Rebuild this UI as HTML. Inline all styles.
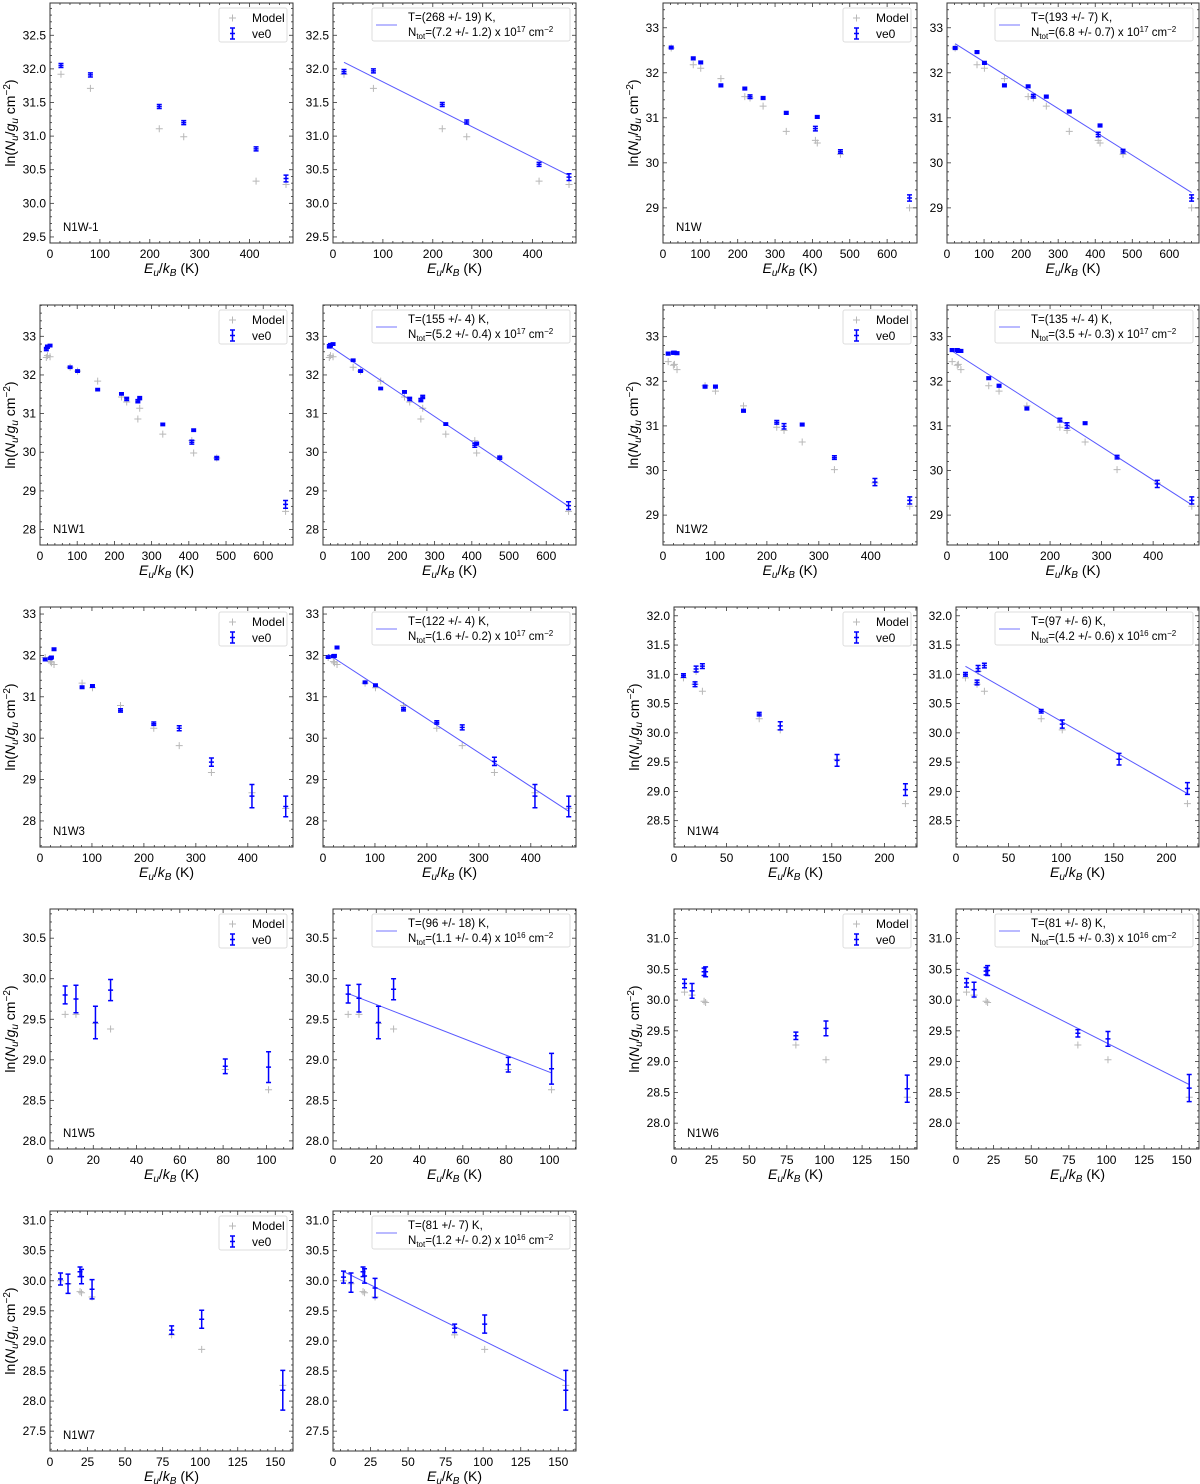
<!DOCTYPE html>
<html><head><meta charset="utf-8"><style>
body{margin:0;background:#fff;}
svg{display:block;font-family:"Liberation Sans",sans-serif;}
</style></head><body>
<svg id="fig" width="1200" height="1484" viewBox="0 0 1200 1484" xmlns="http://www.w3.org/2000/svg"></svg>
<script>
// ---- data ----
const n1w_1_E=[22,81,219,268,413,473];
const n1w_1_model=[31.92,31.71,31.11,30.99,30.33,30.28];
const n1w_1_ve0L=[32.05,31.91,31.44,31.20,30.81,30.37];
const n1w_1_ve0R=[31.96,31.97,31.47,31.21,30.58,30.39];
const n1w_1_err=[.03,.03,.03,.03,.03,.05];
const n1w_E=[22,81,101,155,219,233,268,330,408,413,475,660];
const n1w_model=[32.55,32.18,32.10,31.87,31.47,31.44,31.26,30.70,30.50,30.44,30.19,29.00];
const n1w_ve0L=[32.56,32.32,32.23,31.72,31.65,31.47,31.44,31.11,30.76,31.02,30.25,29.22];
const n1w_ve0R=[32.55,32.46,32.22,31.72,31.70,31.48,31.47,31.14,30.63,30.83,30.26,29.22];
const n1w_err=[.03,.03,.03,.03,.03,.04,.03,.03,.05,.03,.04,.07];
const n1w1_E=[17,20,27,81,101,155,219,233,263,268,330,408,413,475,660];
const n1w1_model=[32.45,32.5,32.47,32.2,32.1,31.84,31.43,31.3,30.86,31.14,30.47,30.3,29.98,29.85,28.47];
const n1w1_ve0L=[32.67,32.73,32.76,32.2,32.1,31.62,31.51,31.38,31.32,31.4,30.72,30.26,30.57,29.85,28.65];
const n1w1_ve0R=[32.74,32.77,32.8,32.38,32.1,31.65,31.56,31.38,31.35,31.43,30.73,30.18,30.23,29.86,28.62];
const n1w1_err=[.04,.04,.03,.03,.03,.03,.03,.04,.04,.04,.03,.05,.03,.04,.1];
const n1w2_E=[10,20,22,27,81,101,155,219,233,268,330,408,475];
const n1w2_model=[32.44,32.36,32.38,32.26,31.9,31.78,31.45,30.97,30.9,30.64,30.02,29.72,29.2];
const n1w2_ve0L=[32.62,32.64,32.64,32.63,31.88,31.88,31.34,31.08,30.99,31.03,30.29,29.74,29.33];
const n1w2_ve0R=[32.7,32.7,32.68,32.68,32.07,31.9,31.39,31.13,31.01,31.06,30.3,29.7,29.33];
const n1w2_err=[.03,.03,.03,.03,.03,.03,.03,.04,.06,.03,.04,.08,.08];
const n1w3_E=[10,20,22,27,81,101,155,219,268,330,408,473];
const n1w3_model=[31.95,31.85,31.82,31.78,31.33,31.22,30.79,30.24,29.82,29.17,28.68,28.3];
const n1w3_ve0L=[31.9,31.93,31.95,32.15,31.23,31.26,30.67,30.35,30.24,29.42,28.6,28.35];
const n1w3_ve0R=[31.96,31.98,31.99,32.19,31.35,31.28,30.7,30.38,30.26,29.44,28.6,28.35];
const n1w3_err=[.03,.03,.03,.03,.03,.03,.04,.04,.06,.1,.28,.25];
const n1w4_E=[9,20,21,27,81,101,155,220];
const n1w4_model=[30.94,30.83,31.05,30.71,30.24,30.05,29.55,28.79];
const n1w4_ve0L=[30.98,30.83,31.09,31.14,30.32,30.12,29.53,29.03];
const n1w4_ve0R=[31.0,30.86,31.1,31.15,30.37,30.15,29.55,29.05];
const n1w4_err=[.03,.04,.05,.04,.03,.07,.1,.1];
const n1w5_E=[7,12,21,28,81,101];
const n1w5_model=[29.56,29.56,29.45,29.38,28.88,28.63];
const n1w5_ve0L=[29.8,29.75,29.46,29.86,28.92,28.91];
const n1w5_ve0R=[29.81,29.76,29.46,29.87,28.94,28.89];
const n1w5_err=[.11,.17,.2,.13,.09,.19];
const n1w6_E=[7,12,20,21,81,101,155];
const n1w6_model=[30.13,30.08,29.98,29.96,29.27,29.03,28.42];
const n1w6_ve0L=[30.27,30.15,30.46,30.46,29.42,29.54,28.56];
const n1w6_ve0R=[30.28,30.17,30.47,30.48,29.46,29.37,28.57];
const n1w6_err=[.07,.12,.06,.08,.06,.12,.22];
const n1w7_E=[7,12,20,21,28,81,101,155];
const n1w7_model=[30.0,29.95,29.82,29.8,29.73,29.1,28.86,28.26];
const n1w7_ve0L=[30.03,29.95,30.15,30.07,29.86,29.18,29.36,28.18];
const n1w7_ve0R=[30.06,29.97,30.15,30.08,29.88,29.21,29.28,28.18];
const n1w7_err=[.1,.16,.08,.12,.16,.07,.15,.33];
// fit results
const fitNames=["N1W-1","N1W","N1W1","N1W2","N1W3","N1W4","N1W5","N1W6","N1W7"];
const fitT=[268,193,155,135,122,97,96,81,81];
const fitTerr=[19,7,4,4,4,6,18,8,7];
const fitA=[32.18,32.76,32.86,32.75,32.11,31.23,29.89,30.54,30.24];
const fitN=["7.2 +/- 1.2","6.8 +/- 0.7","5.2 +/- 0.4","3.5 +/- 0.3","1.6 +/- 0.2","4.2 +/- 0.6","1.1 +/- 0.4","1.5 +/- 0.3","1.2 +/- 0.2"];
const fitExp=["17","17","17","17","17","16","16","16","16"];
// axis settings
const xMax=[487,680,680,489,487,231,112.3,161.5,161.8];
const yMin=[29.41,28.22,27.6,28.33,27.37,28.05,27.9,27.58,27.17];
const yMax=[32.98,33.55,33.81,33.71,33.17,32.15,30.86,31.48,31.16];
const yStep=[0.5,1,1,1,1,0.5,0.5,0.5,0.5];
const xStep=[100,100,100,100,100,50,20,25,25];

const sets=[
 [n1w_1_E,n1w_1_model,n1w_1_ve0L,n1w_1_ve0R,n1w_1_err],
 [n1w_E,n1w_model,n1w_ve0L,n1w_ve0R,n1w_err],
 [n1w1_E,n1w1_model,n1w1_ve0L,n1w1_ve0R,n1w1_err],
 [n1w2_E,n1w2_model,n1w2_ve0L,n1w2_ve0R,n1w2_err],
 [n1w3_E,n1w3_model,n1w3_ve0L,n1w3_ve0R,n1w3_err],
 [n1w4_E,n1w4_model,n1w4_ve0L,n1w4_ve0R,n1w4_err],
 [n1w5_E,n1w5_model,n1w5_ve0L,n1w5_ve0R,n1w5_err],
 [n1w6_E,n1w6_model,n1w6_ve0L,n1w6_ve0R,n1w6_err],
 [n1w7_E,n1w7_model,n1w7_ve0L,n1w7_ve0R,n1w7_err]
];
// layout
const rowTop=[3,305,607,909,1211];
const H=240;
const pairRight=[[293,576],[917,1199]];

const NS="http://www.w3.org/2000/svg";
const svg=document.getElementById('fig');
function el(tag,attrs,parent){const e=document.createElementNS(NS,tag);for(const k in attrs)e.setAttribute(k,attrs[k]);(parent||svg).appendChild(e);return e;}

function drawPanel(i,isLeft,L,T,R,B){
  const [E,model,vL,vR,err]=sets[i];
  const ve0=isLeft?vL:vR;
  const tag=fitNames[i].toLowerCase()+(isLeft?'-data':'-fit');
  const g=el('g',{});
  
  
  const xs=v=>L+(v/xMax[i])*(R-L);
  const ys=v=>B-(v-yMin[i])/(yMax[i]-yMin[i])*(B-T);
  const ticks=el('g',{stroke:'#333','stroke-width':0.8},g);
  
  
  const xst=xStep[i], yst=yStep[i];
  for(let k=0;k*xst/5<=xMax[i]+1e-9;k++){
    const v=k*xst/5, x=xs(v), maj=k%5===0, len=maj?4:2;
    el('line',{x1:x,x2:x,y1:B,y2:B-len},ticks);el('line',{x1:x,x2:x,y1:T,y2:T+len},ticks);
    if(maj){const t=el('text',{x:x,y:B+15,'text-anchor':'middle','font-size':12,fill:'#000',stroke:'none'},g);t.textContent=String(v);
      }
  }
  const k0=Math.ceil(yMin[i]/(yst/5)-1e-9);
  for(let k=k0;k*yst/5<=yMax[i]+1e-9;k++){
    const v=k*yst/5, y=ys(v), maj=Math.abs(Math.round(k/5)*5-k)<1e-9, len=maj?4:2;
    el('line',{x1:L,x2:L+len,y1:y,y2:y},ticks);el('line',{x1:R,x2:R-len,y1:y,y2:y},ticks);
    if(maj){const t=el('text',{x:L-4,y:y+4,'text-anchor':'end','font-size':12,fill:'#000'},g);t.textContent=yst<1?v.toFixed(1):String(Math.round(v));
      }
  }
  E.forEach((e,j)=>{const x=xs(e),y=ys(model[j]);
    const p=el('path',{d:`M${x-3.5},${y}H${x+3.5}M${x},${y-3.5}V${y+3.5}`,stroke:'#b8b8b8','stroke-width':1},g);
    });
  if(!isLeft){
    const e0=E[0],e1=E[E.length-1];
    const ln=el('line',{x1:xs(e0),y1:ys(fitA[i]-e0/fitT[i]),x2:xs(e1),y2:ys(fitA[i]-e1/fitT[i]),stroke:'#3b3bff','stroke-width':1,'stroke-opacity':0.85},g);
    
  }
  E.forEach((e,j)=>{const x=xs(e),y=ys(ve0[j]),y1=ys(ve0[j]+err[j]),y2=ys(ve0[j]-err[j]);
    const p=el('path',{d:`M${x},${y1}V${y2}M${x-2.5},${y1}H${x+2.5}M${x-2.5},${y2}H${x+2.5}M${x-2.5},${y}H${x+2.5}`,stroke:'#0000ff','stroke-width':1.5,fill:'none'},g);
    });
  const fr=el('rect',{x:L,y:T,width:R-L,height:B-T,fill:'none',stroke:'#333','stroke-width':1},g);
  
  const xl=el('text',{x:(L+R)/2,y:B+30,'text-anchor':'middle','font-size':14},g);
  xl.innerHTML='<tspan font-style="italic">E</tspan><tspan font-style="italic" font-size="10" dy="3">u</tspan><tspan dy="-3">/</tspan><tspan font-style="italic">k</tspan><tspan font-style="italic" font-size="10" dy="3">B</tspan><tspan dy="-3"> (K)</tspan>';
  
  if(isLeft){
    const labX=L-(yst<1?40:30);
    const yl=el('text',{x:0,y:0,'text-anchor':'middle','font-size':14,transform:`translate(${labX+5},${(T+B)/2}) rotate(-90)`},g);
    yl.innerHTML='ln(<tspan font-style="italic">N</tspan><tspan font-style="italic" font-size="10" dy="3">u</tspan><tspan dy="-3">/</tspan><tspan font-style="italic">g</tspan><tspan font-style="italic" font-size="10" dy="3">u</tspan><tspan dy="-3"> cm</tspan><tspan font-size="10" dy="-5">−2</tspan><tspan dy="5">)</tspan>';
    
    const an=el('text',{x:L+13,y:B-12,'font-size':11.5},g);an.textContent=fitNames[i];
    
    const lg=el('g',{},g);
    const bx=R-74,by=T+5;
    el('rect',{x:bx,y:by,width:68,height:34,fill:'#fff',stroke:'#ddd','stroke-width':1,rx:2},lg);
    el('path',{d:`M${bx+10},${by+10}H${bx+17}M${bx+13.5},${by+6.5}V${by+13.5}`,stroke:'#b8b8b8','stroke-width':1},lg);
    let t=el('text',{x:bx+33,y:by+14,'font-size':12},lg);t.textContent='Model';
    
    el('path',{d:`M${bx+13.5},${by+20}V${by+31}M${bx+11},${by+20}H${bx+16}M${bx+11},${by+31}H${bx+16}M${bx+11},${by+25.5}H${bx+16}`,stroke:'#0000ff','stroke-width':1.5},lg);
    t=el('text',{x:bx+33,y:by+30,'font-size':12},lg);t.textContent='ve0';
    
  } else {
    const lg=el('g',{},g);
    const bx=R-204,by=T+5;
    el('rect',{x:bx,y:by,width:198,height:33,fill:'#fff',stroke:'#ddd','stroke-width':1,rx:2},lg);
    el('line',{x1:bx+4,x2:bx+25,y1:by+17,y2:by+17,stroke:'#3b3bff','stroke-width':1,'stroke-opacity':0.7},lg);
    let t=el('text',{x:bx+36,y:by+13,'font-size':11.5},lg);t.textContent=`T=(${fitT[i]} +/- ${fitTerr[i]}) K,`;
    
    t=el('text',{x:bx+36,y:by+28,'font-size':11.5},lg);
    t.innerHTML=`N<tspan font-size="8" dy="3">tot</tspan><tspan dy="-3">=(${fitN[i]}) x 10</tspan><tspan font-size="8" dy="-4">${fitExp[i]}</tspan><tspan dy="4"> cm</tspan><tspan font-size="8" dy="-4">−2</tspan>`;
    
  }
}
const place=[[0,0,0,243],[1,0,1,254],[2,1,0,253],[3,1,1,254],[4,2,0,253],[5,2,1,243],[6,3,0,243],[7,3,1,243],[8,4,0,243]];
place.forEach(([i,r,c,w])=>{
  const [rL,rR]=pairRight[c];
  const T=rowTop[r],B=T+H;
  drawPanel(i,true,rL-w,T,rL,B);
  drawPanel(i,false,rR-w+(c===1&&w===254?2:0),T,rR,B);
});
</script>
</body></html>
